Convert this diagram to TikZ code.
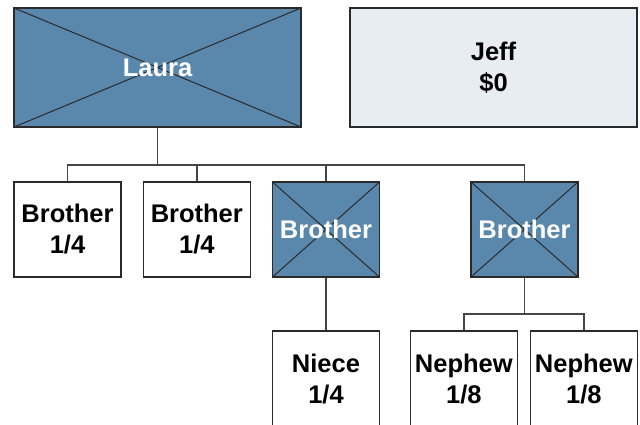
\documentclass[tikz,border=0pt]{standalone}
\usepackage{fontspec}
\setmainfont{Liberation Sans}
\definecolor{heirblue}{HTML}{5A88AD}
\definecolor{paleblue}{HTML}{E8EDF2}
\definecolor{edge}{HTML}{2A2A2A}
\definecolor{wire}{HTML}{454545}
\tikzset{
  person/.style={draw=edge, line width=1.3pt, fill=white, text=black,
    inner sep=0pt, align=center,
    font=\fontsize{25.5}{31}\selectfont\bfseries},
  deceased/.style={person, fill=heirblue, text=white,
    path picture={
      \draw[edge, line width=1pt]
        (path picture bounding box.north west) -- (path picture bounding box.south east)
        (path picture bounding box.north east) -- (path picture bounding box.south west);
    }},
  wireline/.style={draw=wire, line width=1.5pt},
}
\begin{document}
\begin{tikzpicture}[x=1pt, y=-1pt]
\clip (0,0) rectangle (640,425);

% top row
\node[deceased, minimum width=287pt, minimum height=119pt] (laura) at (157.5,67.5) {Laura};
\node[person, fill=paleblue, minimum width=287pt, minimum height=119pt] (jeff) at (493.5,67.5) {Jeff\\\$0};

% siblings
\node[person, minimum width=107pt, minimum height=95pt] (b1) at (67.5,229.5) {Brother\\1/4};
\node[person, minimum width=107pt, minimum height=95pt] (b2) at (196.8,229.5) {Brother\\1/4};
\node[deceased, minimum width=107pt, minimum height=95pt] (b3) at (326,229.5) {Brother};
\node[deceased, minimum width=107pt, minimum height=95pt] (b4) at (524.5,229.5) {Brother};

% next generation
\node[person, minimum width=107pt, minimum height=96pt] (niece) at (326,379) {Niece\\1/4};
\node[person, minimum width=107pt, minimum height=96pt] (n1) at (463.8,379) {Nephew\\1/8};
\node[person, minimum width=107pt, minimum height=96pt] (n2) at (583.8,379) {Nephew\\1/8};

% junction points of the bus lines
\coordinate (bus) at (157.5,165);
\coordinate (nbus) at (524.5,314);

% connectors
\draw[wireline] (laura.south) -- (bus);
\draw[wireline] (b1.north) |- (bus);
\draw[wireline] (b2.north) |- (bus);
\draw[wireline] (b3.north) |- (bus);
\draw[wireline] (b4.north) |- (bus);
\draw[wireline] (b3.south) -- (niece.north);
\draw[wireline] (b4.south) -- (nbus);
\draw[wireline] (n1.north) |- (nbus);
\draw[wireline] (n2.north) |- (nbus);
\end{tikzpicture}
\end{document}
